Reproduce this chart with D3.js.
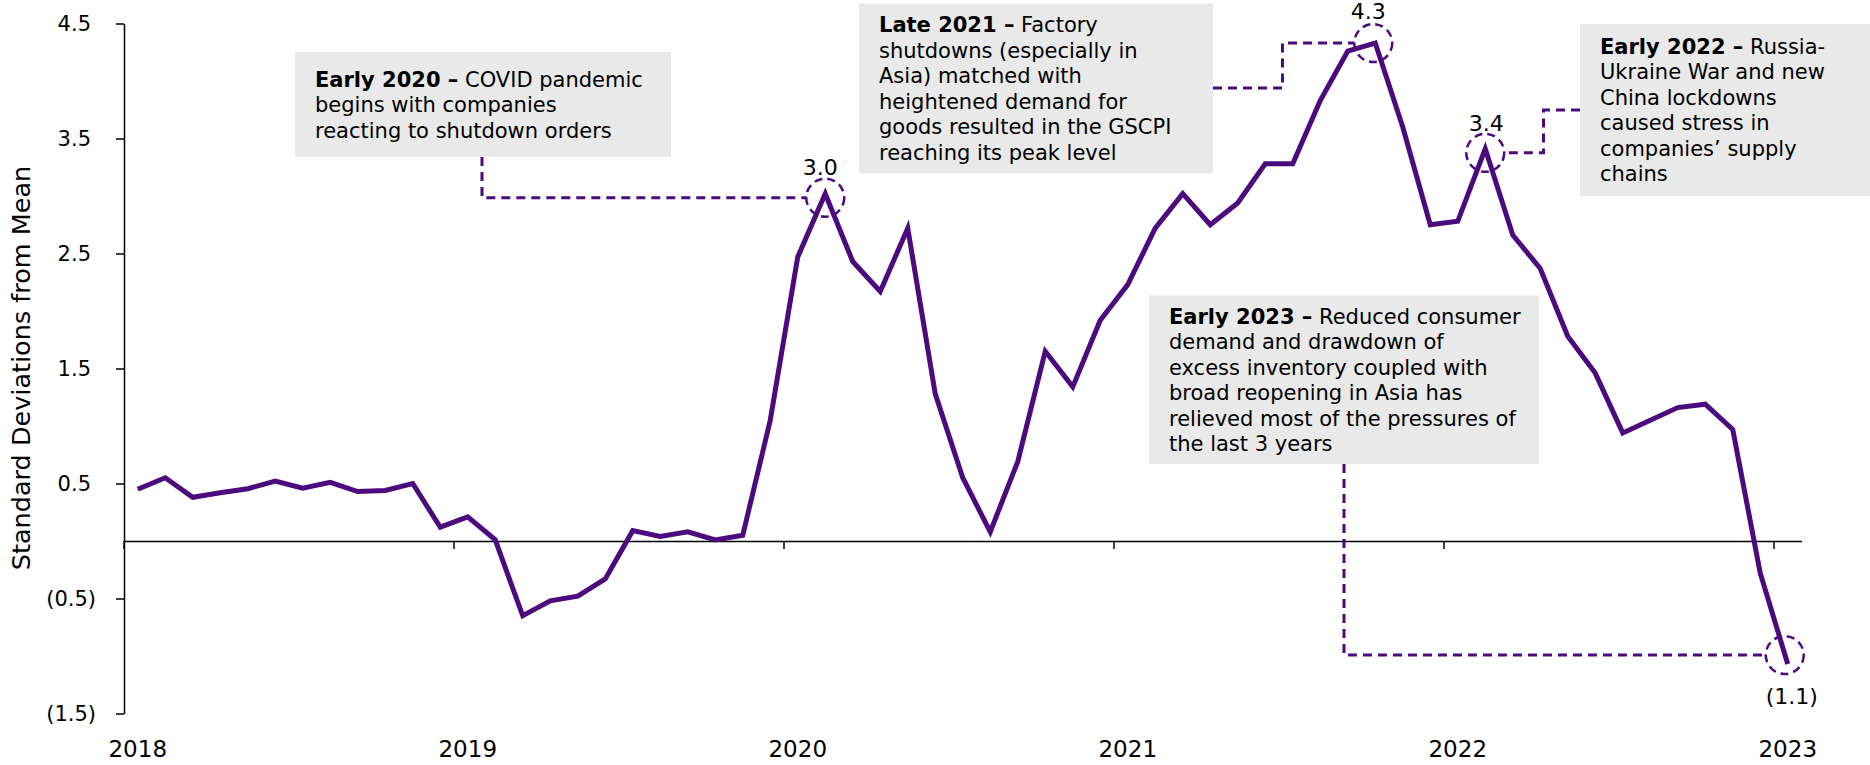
<!DOCTYPE html>
<html>
<head>
<meta charset="utf-8">
<script src="https://cdn.jsdelivr.net/npm/d3@7"></script>
<style>
  body { margin: 0; background: #fff; }
  svg { display: block; font-family: "DejaVu Sans", sans-serif; }
</style>
</head>
<body>
<svg id="chart" width="1870" height="765"></svg>
<script>
// Global Supply Chain Pressure Index, monthly, Jan 2018 .. Jan 2023
const years = [2018, 2019, 2020, 2021, 2022, 2023];
const gscpi2018 = [0.45, 0.55, 0.38, 0.42, 0.455, 0.52, 0.46, 0.51, 0.43, 0.44, 0.50, 0.12];
const gscpi2019 = [0.21, 0.01, -0.65, -0.52, -0.48, -0.33, 0.09, 0.04, 0.08, 0.01, 0.05, 1.05];
const gscpi2020 = [2.47, 3.02, 2.43, 2.17, 2.72, 1.28, 0.55, 0.08, 0.69, 1.65, 1.34, 1.92];
const gscpi2021 = [2.23, 2.72, 3.02, 2.75, 2.94, 3.28, 3.28, 3.83, 4.26, 4.33, 3.60, 2.75];
const gscpi2022 = [2.78, 3.41, 2.66, 2.37, 1.78, 1.46, 0.94, 1.05, 1.16, 1.19, 0.97, -0.28];
const gscpi2023 = [-1.07];
const yTicks = [4.5, 3.5, 2.5, 1.5, 0.5, -0.5, -1.5];
const yTitle = "Standard Deviations from Mean";

const calloutMonths = ["2020-02", "2021-10", "2022-02", "2023-01"];
const calloutHeads = ["Early 2020 –", "Late 2021 –", "Early 2022 –", "Early 2023 –"];
const calloutLines = [
  ["COVID pandemic", "begins with companies", "reacting to shutdown orders"],
  ["Factory", "shutdowns (especially in", "Asia) matched with", "heightened demand for", "goods resulted in the GSCPI", "reaching its peak level"],
  ["Russia-", "Ukraine War and new", "China lockdowns", "caused stress in", "companies’ supply", "chains"],
  ["Reduced consumer", "demand and drawdown of", "excess inventory coupled with", "broad reopening in Asia has", "relieved most of the pressures of", "the last 3 years"]
];

// layout of the callout boxes and their connectors (pixels)
const boxes = [
  { x: 295, y: 52, w: 376, h: 105, side: "bottom", at: 482, cdx: 0, cdy: 4, ldx: -5, ldy: -23 },
  { x: 859, y: 3.5, w: 354, h: 170, side: "right", at: 88, elbow: 1282.5, cdx: -2, cdy: 0, ldx: -5, ldy: -24 },
  { x: 1580, y: 24, w: 290, h: 172, side: "left", at: 110, elbow: 1543.5, cdx: 0, cdy: 4, ldx: 1, ldy: -22 },
  { x: 1149, y: 295.5, w: 390, h: 168.5, side: "bottom", at: 1344, cdx: -3, cdy: -9, ldx: 7, ldy: 49 }
];

const purple = "#4b0a7d";
const boxFill = "#e9e9e9";

const values = [].concat(gscpi2018, gscpi2019, gscpi2020, gscpi2021, gscpi2022, gscpi2023);
const months = [];
years.forEach(yr => {
  for (let m = 1; m <= 12; m++) {
    if (months.length < values.length) months.push(yr + "-" + String(m).padStart(2, "0"));
  }
});
const data = months.map((m, i) => ({ month: m, value: values[i] }));
const januaries = months.filter(m => m.endsWith("-01"));

const svg = d3.select("#chart");

const x = d3.scaleBand().domain(months).range([124, 1801.5]).padding(0);
const y = d3.scaleLinear().domain([-1.5, 4.5]).range([713.5, 23.5]);
const cx = m => x(m) + x.bandwidth() / 2;

const fmt = v => {
  const s = d3.format(".1f")(Math.abs(v));
  return v < 0 ? "(" + s + ")" : s;
};

// y axis
const gy = svg.append("g")
  .attr("transform", "translate(124,0)")
  .call(d3.axisLeft(y).tickValues(yTicks).tickSize(8).tickSizeOuter(0).tickFormat(fmt));
gy.select(".domain").attr("stroke", "#000").attr("stroke-width", 1.5);
gy.selectAll(".tick line").attr("stroke", "#000").attr("stroke-width", 1.5);
gy.selectAll(".tick text")
  .attr("x", d => d < 0 ? -28 : -33)
  .attr("fill", "#000")
  .style("font-size", "21px")
  .style("font-family", "'DejaVu Sans', sans-serif");

// x axis on the zero line
const gx = svg.append("g")
  .attr("transform", `translate(0,${y(0)})`)
  .call(d3.axisBottom(x).tickValues(januaries).tickSize(8).tickSizeOuter(0).tickFormat(m => m.slice(0, 4)));
gx.select(".domain").attr("stroke", "#000").attr("stroke-width", 1.5);
gx.selectAll(".tick line")
  .attr("x1", -x.bandwidth() / 2).attr("x2", -x.bandwidth() / 2)
  .attr("stroke", "#000").attr("stroke-width", 1.5);
gx.selectAll(".tick text")
  .attr("y", 216).attr("dy", 0)
  .attr("fill", "#000")
  .style("font-size", "23px")
  .style("font-family", "'DejaVu Sans', sans-serif");

// axis title
svg.append("text")
  .attr("transform", "translate(30,368) rotate(-90)")
  .attr("text-anchor", "middle")
  .style("font-size", "25.5px")
  .attr("fill", "#000")
  .text(yTitle);

// series line
svg.append("path")
  .datum(data)
  .attr("fill", "none")
  .attr("stroke", purple)
  .attr("stroke-width", 5)
  .attr("d", d3.line().x(d => cx(d.month)).y(d => y(d.value)));

// callouts
const r = 19;
boxes.forEach((b, i) => {
  const d = data.find(p => p.month === calloutMonths[i]);
  const px = cx(d.month) + b.cdx;
  const py = y(d.value) + b.cdy;
  const g = svg.append("g");

  g.append("rect")
    .attr("x", b.x).attr("y", b.y).attr("width", b.w).attr("height", b.h)
    .attr("fill", boxFill);

  const n = calloutLines[i].length;
  const lh = 25.5, fs = 21;
  const y0 = b.y + b.h / 2 - (n - 1) * lh / 2 + 0.36 * fs;
  const t = g.append("text")
    .attr("x", b.x + 20).attr("y", y0)
    .style("font-size", fs + "px")
    .attr("fill", "#000");
  calloutLines[i].forEach((line, k) => {
    const ts = t.append("tspan").attr("x", b.x + 20).attr("y", y0 + k * lh);
    if (k === 0) {
      ts.append("tspan").style("font-weight", "bold").text(calloutHeads[i]);
      ts.append("tspan").text(" " + line);
    } else {
      ts.text(line);
    }
  });

  let path;
  if (b.side === "bottom") {
    path = `M${b.at},${b.y + b.h}V${py}H${px - r}`;
  } else if (b.side === "right") {
    path = `M${b.x + b.w},${b.at}H${b.elbow}V${py}H${px - r}`;
  } else {
    path = `M${b.x},${b.at}H${b.elbow}V${py}H${px + r}`;
  }
  g.append("path")
    .attr("d", path)
    .attr("fill", "none")
    .attr("stroke", purple)
    .attr("stroke-width", 3)
    .attr("stroke-dasharray", "9,6");

  g.append("circle")
    .attr("cx", px).attr("cy", py).attr("r", r)
    .attr("fill", "none")
    .attr("stroke", purple)
    .attr("stroke-width", 2.5)
    .attr("stroke-dasharray", "8,5");

  g.append("text")
    .attr("x", px + b.ldx).attr("y", py + b.ldy)
    .attr("text-anchor", "middle")
    .style("font-size", "22px")
    .attr("fill", "#000")
    .text(fmt(d.value));
});
</script>
</body>
</html>
